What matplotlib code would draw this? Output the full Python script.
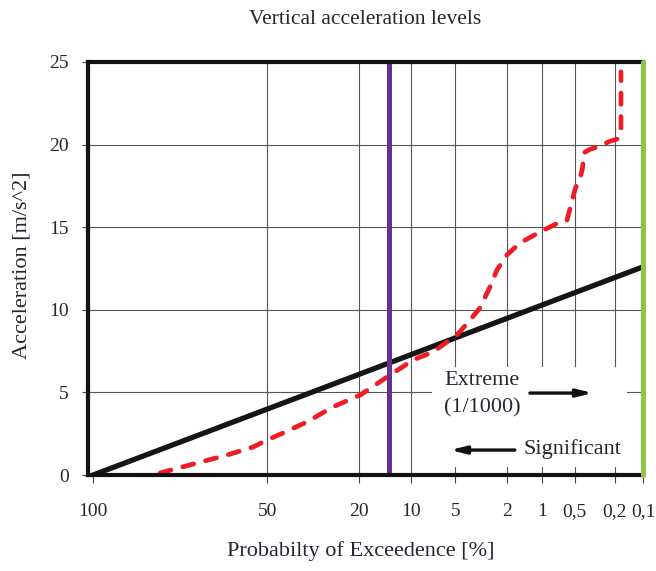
import numpy as np
import matplotlib
matplotlib.use("Agg")
import matplotlib.pyplot as plt
from matplotlib.patches import Rectangle

# x axis: probability of exceedence [%], y axis: acceleration [m/s^2]
x_ticks = [100, 50, 20, 10, 5, 2, 1, 0.5, 0.2, 0.1]
x_tick_labels = ["100", "50", "20", "10", "5", "2", "1", "0,5", "0,2", "0,1"]
y_ticks = [0, 5, 10, 15, 20, 25]

# straight (Rayleigh) reference line
rayleigh_p = [100, 0.1]
rayleigh_acc = [0, 12.6]

# measured levels (red dashed)
measured_p = [90.3, 80.7, 66.4, 55.8, 50.1, 43.9, 35.2, 26.9, 19.6, 13.9,
              9.66, 7.15, 4.86, 3.90, 3.28, 2.74, 2.41, 2.00, 1.56, 1.05,
              0.69, 0.593, 0.52, 0.49, 0.446, 0.42, 0.408, 0.36, 0.303,
              0.224, 0.185, 0.172, 0.172]
measured_acc = [0.12, 0.61, 1.21, 1.69, 2.12, 2.54, 3.21, 4.12, 4.84, 5.93,
                6.96, 7.45, 8.47, 9.38, 10.11, 11.38, 12.41, 13.32, 14.04, 14.71,
                15.31, 15.4, 16.8, 17.4, 17.9, 18.6, 19.5, 19.7, 19.85,
                20.2, 20.35, 20.9, 24.4]

significant_p = 100 * np.exp(-2)   # 13.5 %
extreme_p = 0.1                    # 1/1000


def fwd(p):
    # Rayleigh probability scale: sqrt(-ln(P))
    p = np.asarray(p, dtype=float)
    L = -np.log(np.clip(p, 1e-12, None) / 100.0)
    return np.sign(L) * np.sqrt(np.abs(L))


def inv(x):
    x = np.asarray(x, dtype=float)
    return 100.0 * np.exp(-np.sign(x) * x ** 2)


plt.rcParams['font.family'] = ['Liberation Serif', 'DejaVu Serif']
text_color = "#262630"

fig = plt.figure(figsize=(6.56, 5.71), dpi=100)
ax = fig.add_axes([88 / 656, 1 - 475 / 571, (643 - 88) / 656, (475 - 62) / 571])

ax.set_xscale('function', functions=(fwd, inv))
# forward is decreasing, so give limits in increasing data order -> 100 on the left
ax.set_xlim(0.1, 100.06)
ax.set_ylim(0, 25)

ax.set_xticks(x_ticks)
ax.set_xticklabels(x_tick_labels)
ax.set_yticks(y_ticks)
ax.xaxis.set_minor_locator(matplotlib.ticker.NullLocator())
ax.tick_params(axis='x', length=6, width=0.8, color="#444444", pad=14,
               labelsize=14, labelcolor=text_color)
ax.tick_params(axis='y', length=4, width=0.8, color="#444444", pad=10,
               labelsize=14, labelcolor=text_color)

ax.grid(True, color="#555555", linewidth=0.8, zorder=0)
ax.set_axisbelow(True)
# the 100 % line sits on the left spine
ax.xaxis.get_gridlines()[0].set_visible(False)

for side in ['left', 'bottom', 'top']:
    ax.spines[side].set_linewidth(3)
    ax.spines[side].set_color("#111111")
    ax.spines[side].set_zorder(6)
ax.spines['right'].set_visible(False)

# white box behind the annotation texts
ax.add_patch(Rectangle((7.2, 0.48), 0.149 - 7.2, 6.54 - 0.48,
                       facecolor='white', edgecolor='none', zorder=1))

ax.plot(rayleigh_p, rayleigh_acc, color="#151515", linewidth=3.8,
        solid_capstyle='round', zorder=3)
ax.plot(measured_p, measured_acc, color="#EE1D25", linewidth=3.4,
        linestyle=(0, (2.4, 2.6)), dash_capstyle='round', zorder=4)

ax.axvline(significant_p, color="#66308F", linewidth=3.6, zorder=5,
           solid_capstyle='round')
ax.axvline(extreme_p, color="#8DC640", linewidth=3.6, zorder=7,
           solid_capstyle='round', clip_on=False)

ax.text(3.16, 5.75, "Extreme", ha='center', va='center', fontsize=16,
        color=text_color, zorder=8)
ax.text(3.16, 4.06, "(1/1000)", ha='center', va='center', fontsize=16,
        color=text_color, zorder=8)
ax.annotate("", xy=(0.332, 4.96), xytext=(1.28, 4.96),
            arrowprops=dict(arrowstyle='-|>,head_length=0.9,head_width=0.22',
                            color="#111111", linewidth=2.4, shrinkA=0, shrinkB=0),
            zorder=8)
ax.text(0.52, 1.57, "Significant", ha='center', va='center', fontsize=16,
        color=text_color, zorder=8)
ax.annotate("", xy=(5.45, 1.51), xytext=(1.72, 1.51),
            arrowprops=dict(arrowstyle='-|>,head_length=0.9,head_width=0.22',
                            color="#111111", linewidth=2.4, shrinkA=0, shrinkB=0),
            zorder=8)

fig.text(365 / 656, 1 - 19 / 571, "Vertical acceleration levels", ha='center',
         va='center', fontsize=15.5, color=text_color)
fig.text(361 / 656, 1 - 551 / 571, "Probabilty of Exceedence [%]", ha='center',
         va='center', fontsize=16, color=text_color)
fig.text(22 / 656, 1 - 265 / 571, "Acceleration [m/s^2]", ha='center',
         va='center', rotation=90, fontsize=16, color=text_color)

fig.savefig("out.png", dpi=100)
